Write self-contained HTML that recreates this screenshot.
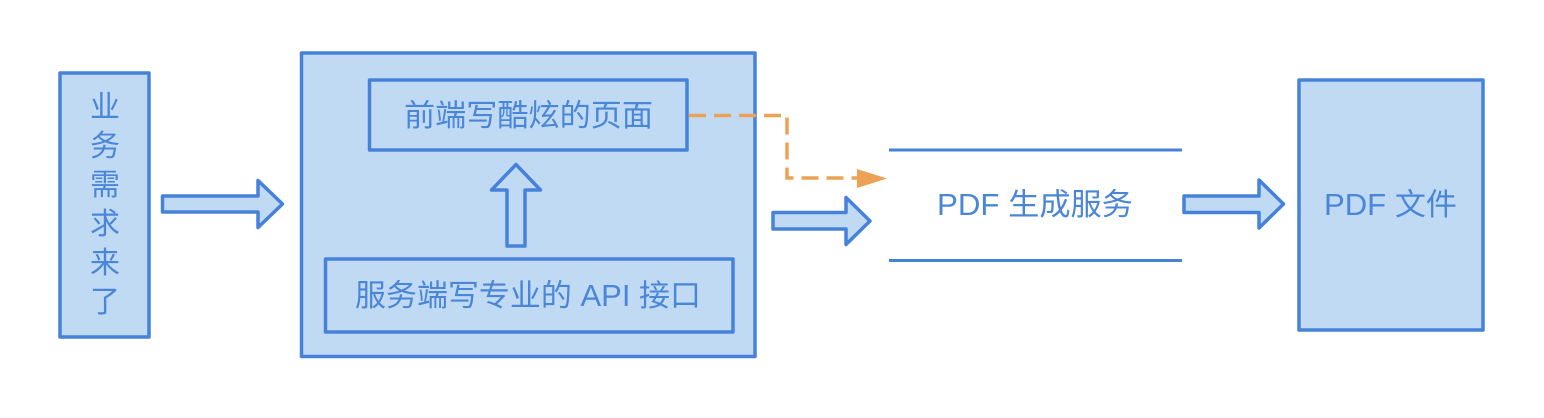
<!DOCTYPE html>
<html>
<head>
<meta charset="utf-8">
<style>
html,body{margin:0;padding:0;background:#fff;width:1544px;height:418px;overflow:hidden}
svg{display:block}
text{font-family:"Liberation Sans","Noto Sans CJK SC",sans-serif;font-size:30px;fill:#4a86d8}
.h{font-size:30.500px}
.b{fill:#c1daf4;stroke:#4682d9;stroke-width:3.5;stroke-linejoin:round}
</style>
</head>
<body>
<svg width="1544" height="418" viewBox="0 0 1544 418" xmlns="http://www.w3.org/2000/svg">
<rect class="b" x="60" y="73" width="89" height="264"/>
<g text-anchor="middle">
<text x="105" y="117">业</text>
<text x="105" y="156">务</text>
<text x="105" y="195">需</text>
<text x="105" y="234">求</text>
<text x="105" y="273">来</text>
<text x="105" y="312">了</text>
</g>
<path class="b" d="M162.500 196H258V180.500L282.500 204L258 227.500V212H162.500Z"/>
<rect class="b" x="301.500" y="53" width="453.500" height="303.500"/>
<rect class="b" x="369.500" y="80" width="317.500" height="70"/>
<text class="h" x="404" y="126" textLength="249" lengthAdjust="spacingAndGlyphs">前端写酷炫的页面</text>
<path class="b" d="M516 164.500L540.500 190H525V246H507V190H491.500Z"/>
<rect class="b" x="325.500" y="259" width="407.500" height="73"/>
<text class="h" x="355" y="306" textLength="346" lengthAdjust="spacingAndGlyphs">服务端写专业的 API 接口</text>
<path class="b" d="M773 212.500H846V197.500L870 221L846 244.500V229H773Z"/>
<path d="M689 115.500H787V178H858" fill="none" stroke="#eca255" stroke-width="3.500" stroke-dasharray="17 8"/>
<path d="M857 169L887 178.500L857 188Z" fill="#eca255"/>
<path d="M889 150H1182M889 260.500H1182" fill="none" stroke="#4682d9" stroke-width="3"/>
<text class="h" x="937" y="215" textLength="196" lengthAdjust="spacingAndGlyphs">PDF 生成服务</text>
<path class="b" d="M1184 196H1259V180L1283.500 204L1259 228V212.500H1184Z"/>
<rect class="b" x="1299" y="80" width="184" height="250"/>
<text class="h" x="1324" y="215" textLength="133" lengthAdjust="spacingAndGlyphs">PDF 文件</text>
</svg>
</body>
</html>
